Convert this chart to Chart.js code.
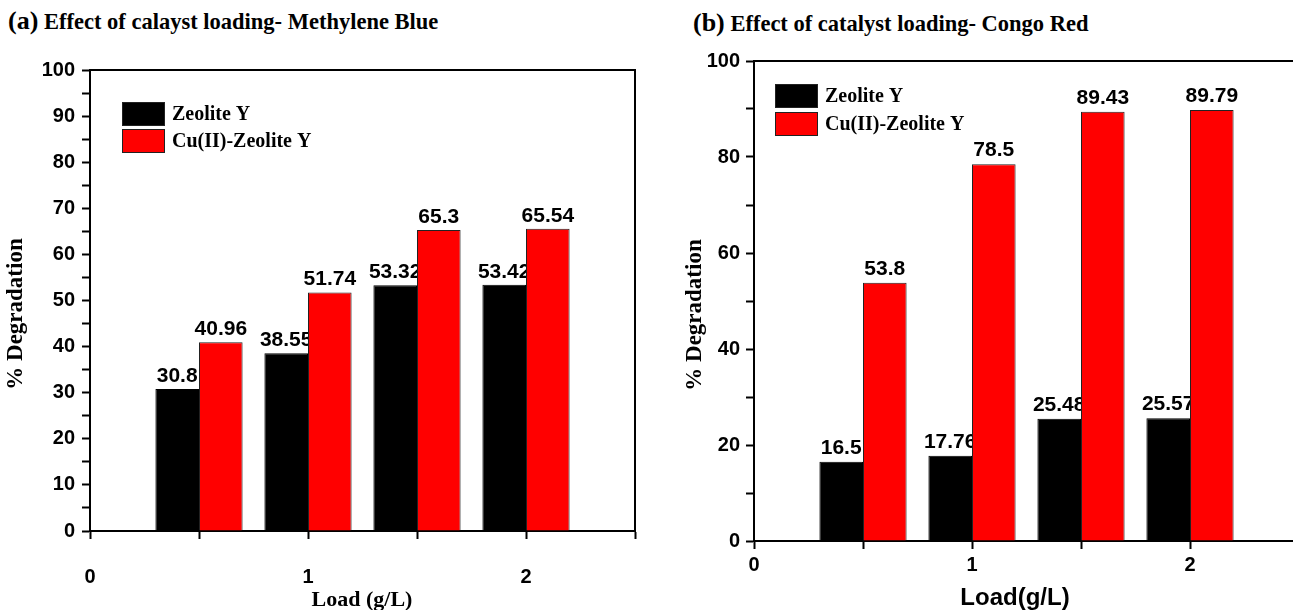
<!DOCTYPE html>
<html><head><meta charset="utf-8">
<script src="https://cdn.jsdelivr.net/npm/chart.js@4.4.1/dist/chart.umd.min.js"></script>
<style>
html,body{margin:0;padding:0;width:1293px;height:610px;overflow:hidden;background:#fff;}
.title{position:absolute;font-family:"Liberation Serif","Times New Roman",serif;font-weight:bold;color:#000;white-space:nowrap;font-size:22.5px;line-height:26px;}
.title .tag{font-size:26px;}
#wa{position:absolute;left:0;top:0;width:650px;height:610px;}
#wb{position:absolute;left:650px;top:0;width:664px;height:610px;}
</style></head>
<body>
<div class="title" style="left:8px;top:8px;"><span class="tag">(a)</span> Effect of calayst loading- Methylene Blue</div>
<div class="title" style="left:693px;top:10px;"><span class="tag">(b)</span> Effect of catalyst loading- Congo Red</div>
<div id="wa"><canvas id="ca" width="650" height="610"></canvas></div>
<div id="wb"><canvas id="cb" width="664" height="610"></canvas></div>
<script>
// ---- data ----
const loads = [0.5, 1, 1.5, 2];
const seriesNames = ['Zeolite Y', 'Cu(II)-Zeolite Y'];
const mbZeolite = [30.8, 38.55, 53.32, 53.42];
const mbCuZeolite = [40.96, 51.74, 65.3, 65.54];
const crZeolite = [16.5, 17.76, 25.48, 25.57];
const crCuZeolite = [53.8, 78.5, 89.43, 89.79];
const xTickLabels = [0, 1, 2];
const mbYTickLabels = [0, 10, 20, 30, 40, 50, 60, 70, 80, 90, 100];
const crYTickLabels = [0, 20, 40, 60, 80, 100];

const sans = "'Liberation Sans', Arial, sans-serif";
const serif = "'Liberation Serif', 'Times New Roman', serif";

function valueLabels(fontSize, gap) {
  return {
    id: 'valueLabels',
    beforeDatasetsDraw(chart) {
      const ctx = chart.ctx;
      ctx.save();
      ctx.font = 'bold ' + fontSize + 'px ' + sans;
      ctx.fillStyle = '#000';
      ctx.textAlign = 'center';
      ctx.textBaseline = 'alphabetic';
      chart.data.datasets.forEach((ds, i) => {
        const meta = chart.getDatasetMeta(i);
        meta.data.forEach((bar, j) => {
          ctx.fillText(String(ds.data[j].y), bar.x, bar.y - gap);
        });
      });
      ctx.restore();
    }
  };
}

function boxLegend(o) {
  return {
    id: 'boxLegend',
    afterDraw(chart) {
      const ctx = chart.ctx, a = chart.chartArea;
      ctx.save();
      ctx.font = 'bold 20px ' + serif;
      ctx.textBaseline = 'middle';
      ctx.textAlign = 'left';
      chart.data.datasets.forEach((ds, i) => {
        const x = a.left + o.dx, y = a.top + o.dy + i * o.rowH;
        ctx.fillStyle = ds.backgroundColor;
        ctx.fillRect(x, y, o.w, o.h);
        ctx.strokeStyle = '#222';
        ctx.lineWidth = 1;
        ctx.strokeRect(x + 0.5, y + 0.5, o.w - 1, o.h - 1);
        ctx.fillStyle = '#000';
        ctx.fillText(ds.label, x + o.w + 7, y + o.h / 2 + 1);
      });
      ctx.restore();
    }
  };
}

// axis titles placed freely (x/y given in canvas coords)
function axisTitles(t) {
  return {
    id: 'axisTitles',
    afterDraw(chart) {
      const ctx = chart.ctx;
      ctx.save();
      ctx.fillStyle = '#000';
      ctx.textAlign = 'center';
      ctx.textBaseline = 'middle';
      ctx.font = t.xFont;
      ctx.fillText(t.xText, t.xx, t.xy);
      ctx.translate(t.yx, t.yy);
      ctx.rotate(-Math.PI / 2);
      ctx.font = t.yFont;
      ctx.fillText(t.yText, 0, 0);
      ctx.restore();
    }
  };
}

const frame = {
  id: 'frame',
  afterDraw(chart) {
    const ctx = chart.ctx, a = chart.chartArea;
    ctx.save();
    ctx.strokeStyle = '#000';
    ctx.lineWidth = 2;
    ctx.beginPath();
    ctx.moveTo(a.left, a.top);
    ctx.lineTo(a.right, a.top);
    ctx.lineTo(a.right, a.bottom);
    ctx.stroke();
    ctx.restore();
  }
};

function makeChart(canvas, c) {
  return new Chart(canvas, {
    type: 'bar',
    data: {
      datasets: [
        { label: seriesNames[0], data: loads.map((x, i) => ({ x: x, y: c.a[i] })),
          backgroundColor: '#000000', borderColor: '#000', borderWidth: 1,
          categoryPercentage: 0.8, barPercentage: 1 },
        { label: seriesNames[1], data: loads.map((x, i) => ({ x: x, y: c.b[i] })),
          backgroundColor: '#ff0000', borderColor: '#222', borderWidth: 1,
          categoryPercentage: 0.8, barPercentage: 1 }
      ]
    },
    options: {
      responsive: false,
      animation: false,
      layout: { padding: { top: c.top, right: c.right, left: 0, bottom: 0 } },
      plugins: { legend: { display: false }, tooltip: { enabled: false } },
      scales: {
        x: {
          type: 'linear', min: 0, max: 2.5, offset: false,
          ticks: { stepSize: 0.5, autoSkip: false, maxRotation: 0, padding: c.xPad, color: '#000',
            font: { family: sans, weight: 'bold', size: 20, lineHeight: 1.2 },
            callback: (v) => xTickLabels.includes(v) ? (c.xDrop ? ['', String(v)] : String(v)) : '' },
          grid: { offset: false, drawOnChartArea: false, drawTicks: true, tickLength: 8, tickWidth: 2, tickColor: '#000' },
          border: { display: true, color: '#000', width: 2 },
          title: { display: false },
          afterFit: (s) => { s.height = c.xAxisH; }
        },
        y: {
          type: 'linear', min: 0, max: 100,
          ticks: { stepSize: c.yStep, autoSkip: false, padding: c.yPad, color: '#000',
            font: { family: sans, weight: 'bold', size: 20 },
            callback: (v) => c.yLabels.includes(v) ? String(v) : '' },
          grid: { drawOnChartArea: false, drawTicks: true, tickLength: 8, tickWidth: 2, tickColor: '#000' },
          border: { display: true, color: '#000', width: 2 },
          title: { display: false },
          afterFit: (s) => { s.width = c.yAxisW; }
        }
      }
    },
    plugins: [valueLabels(21, c.gap), boxLegend(c.legend), frame, axisTitles(c.titles)]
  });
}

makeChart(document.getElementById('ca'), {
  a: mbZeolite, b: mbCuZeolite,
  top: 70, right: 15, xPad: 2, xDrop: true, xAxisH: 79,
  yStep: 5, yLabels: mbYTickLabels, yPad: 7, yAxisW: 90, gap: 7,
  legend: { dx: 32, dy: 32, w: 43, h: 24, rowH: 27 },
  titles: { xText: 'Load (g/L)', xFont: 'bold 22px ' + serif, xx: 362, xy: 600,
            yText: '% Degradation', yFont: 'bold 23px ' + serif, yx: 16, yy: 314 }
});

makeChart(document.getElementById('cb'), {
  a: crZeolite, b: crCuZeolite,
  top: 61, right: 15, xPad: 4, xDrop: false, xAxisH: 69,
  yStep: 10, yLabels: crYTickLabels, yPad: 6, yAxisW: 104, gap: 8,
  legend: { dx: 21, dy: 23, w: 43, h: 24, rowH: 28 },
  titles: { xText: 'Load(g/L)', xFont: 'bold 24px ' + sans, xx: 365, xy: 598,
            yText: '% Degradation', yFont: 'bold 23px ' + serif, yx: 45, yy: 315 }
});
</script>
</body></html>
